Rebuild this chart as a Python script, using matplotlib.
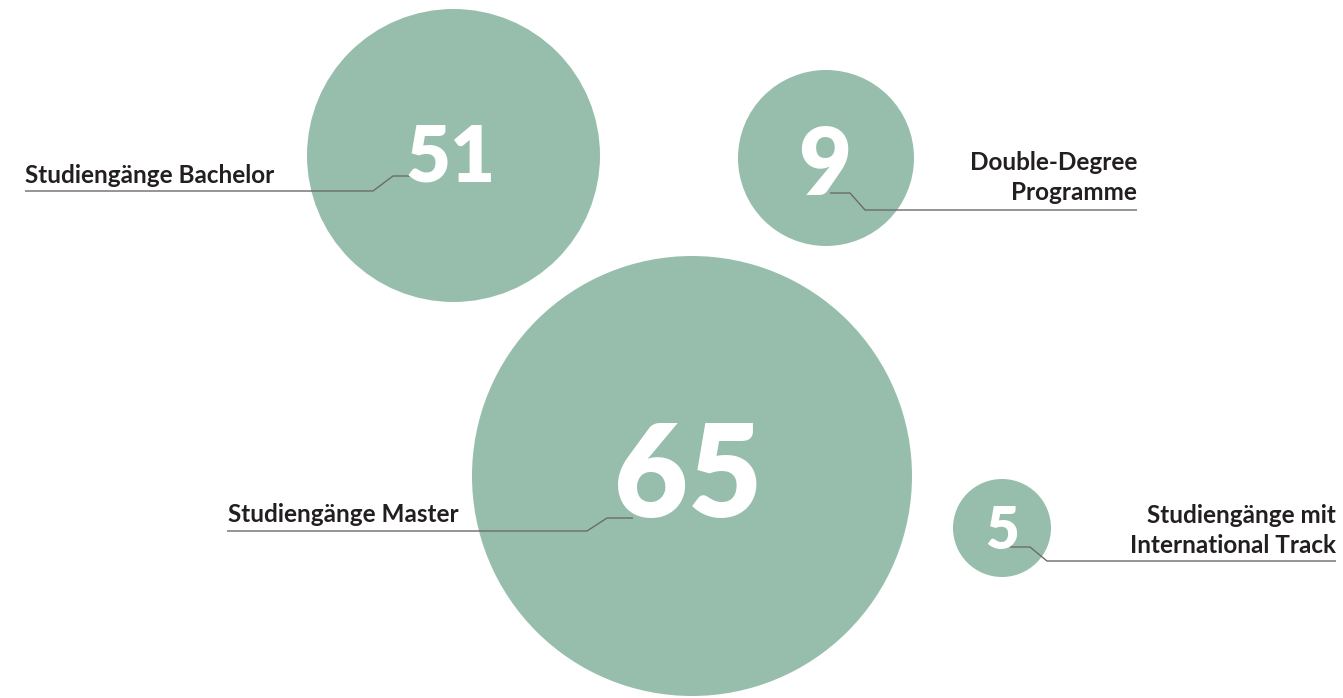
import matplotlib.pyplot as plt
from matplotlib.patches import Circle

# data
values = [51, 9, 65, 5]
labels = ["Studiengänge Bachelor", "Double-Degree\nProgramme",
          "Studiengänge Master", "Studiengänge mit\nInternational Track"]

# layout (pixel coords, y down)
centers = [(453.5, 155.5), (826, 158), (692, 476), (1002, 528)]
radii = [146.5, 88, 220, 49]
num_pos = [(451, 152), (825, 160), (688, 468), (1002, 527)]
num_size = [56, 66, 92, 42]
label_xy = [(25, 183, 'left'), (1137, 170, 'right'), (228, 522, 'left'), (1336, 523, 'right')]
leaders = [
    [(25, 191), (373, 191), (393, 176), (415, 176)],
    [(1137, 210), (865, 210), (850, 193), (830, 193)],
    [(227, 531), (587, 531), (607, 518), (633, 518)],
    [(1336, 561), (1047, 561), (1030, 547), (1010, 547)],
]

GREEN = '#97BEAD'
DARK = '#231F20'
LINE = '#6B6B6B'

W, H = 1343, 698
fig = plt.figure(figsize=(W / 100, H / 100), dpi=100)
ax = fig.add_axes([0, 0, 1, 1])
ax.set_xlim(0, W)
ax.set_ylim(H, 0)
ax.axis('off')

for v, (cx, cy), r, (nx, ny), fs in zip(values, centers, radii, num_pos, num_size):
    ax.add_patch(Circle((cx, cy), r, color=GREEN, zorder=1, lw=0))
    ax.text(nx, ny, str(v), color='white', fontsize=fs,
            family='Lato', weight='heavy', ha='center', va='center_baseline', zorder=3)

for pts in leaders:
    xs, ys = zip(*pts)
    ax.plot(xs, ys, color=LINE, lw=1.0, zorder=2, solid_capstyle='butt')

for lab, (x, y, ha) in zip(labels, label_xy):
    for i, line in enumerate(lab.split('\n')):
        ax.text(x, y + i * 30, line, color=DARK, fontsize=17.5, family='Lato',
                weight='bold', ha=ha, va='baseline', zorder=4)

fig.savefig('out.png', dpi=100, facecolor='white')
